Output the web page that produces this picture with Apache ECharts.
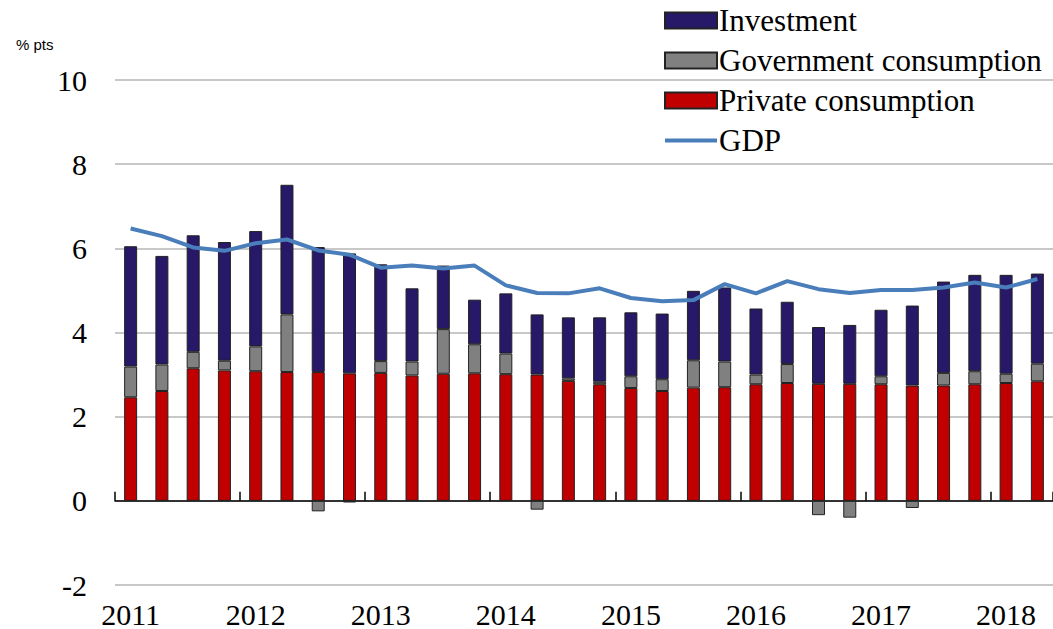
<!DOCTYPE html>
<html>
<head>
<meta charset="utf-8">
<script src="https://cdn.jsdelivr.net/npm/echarts@6/dist/echarts.min.js"></script>
<style>
html,body{margin:0;padding:0;background:#fff;}
#c{width:1053px;height:629px;}
</style>
</head>
<body>
<div id="c"></div>
<script>
const categories = [
  '2011Q1','2011Q2','2011Q3','2011Q4',
  '2012Q1','2012Q2','2012Q3','2012Q4',
  '2013Q1','2013Q2','2013Q3','2013Q4',
  '2014Q1','2014Q2','2014Q3','2014Q4',
  '2015Q1','2015Q2','2015Q3','2015Q4',
  '2016Q1','2016Q2','2016Q3','2016Q4',
  '2017Q1','2017Q2','2017Q3','2017Q4',
  '2018Q1','2018Q2'
];
const privateConsumption = [
  2.46, 2.61, 3.15, 3.10, 3.08, 3.06, 3.06, 3.03,
  3.04, 2.98, 3.02, 3.03, 3.01, 3.00, 2.85, 2.77,
  2.68, 2.61, 2.69, 2.70, 2.77, 2.80, 2.78, 2.78,
  2.77, 2.74, 2.74, 2.77, 2.80, 2.84
];
const governmentConsumption = [
  0.73, 0.63, 0.39, 0.23, 0.59, 1.37, -0.25, -0.04,
  0.28, 0.33, 1.06, 0.69, 0.49, -0.21, 0.06, 0.06,
  0.28, 0.28, 0.65, 0.61, 0.23, 0.45, -0.34, -0.40,
  0.19, -0.17, 0.30, 0.31, 0.22, 0.42
];
const investment = [
  2.86, 2.58, 2.77, 2.82, 2.74, 3.08, 2.97, 2.85,
  2.30, 1.74, 1.51, 1.06, 1.43, 1.43, 1.45, 1.53,
  1.52, 1.56, 1.65, 1.76, 1.57, 1.48, 1.35, 1.40,
  1.58, 1.90, 2.17, 2.29, 2.35, 2.14
];
const gdp = [
  6.47, 6.29, 6.02, 5.94, 6.12, 6.21, 5.95, 5.85,
  5.54, 5.59, 5.52, 5.59, 5.12, 4.94, 4.93, 5.05,
  4.82, 4.74, 4.77, 5.15, 4.93, 5.22, 5.03, 4.94,
  5.01, 5.01, 5.07, 5.19, 5.07, 5.27
];
const yTicks = { min: -2, max: 10, interval: 2 };

const serif = 'Liberation Serif';
const chart = echarts.init(document.getElementById('c'), null, { renderer: 'svg' });
const barBorder = { borderColor: '#222222', borderWidth: 1 };
chart.setOption({
  animation: false,
  backgroundColor: '#ffffff',
  title: {
    text: '% pts',
    left: 11, top: 32,
    textStyle: { fontFamily: 'Liberation Sans', fontSize: 15, fontWeight: 'normal', color: '#000' }
  },
  legend: {
    orient: 'vertical',
    left: 659, top: 0,
    itemWidth: 52, itemHeight: 16,
    itemGap: 9,
    data: [
      { name: 'Investment', icon: 'rect' },
      { name: 'Government consumption', icon: 'rect' },
      { name: 'Private consumption', icon: 'rect' },
      { name: 'GDP', icon: 'path://M0,0 L52,0 L52,4 L0,4 Z', itemStyle: { color: '#4A7EBB', borderWidth: 0 } }
    ],
    textStyle: { fontFamily: serif, fontSize: 31, color: '#000', lineHeight: 31, padding: [0, 0, 0, -3] }
  },
  grid: { left: 115, top: 80, width: 938, height: 506, containLabel: false },
  xAxis: [
    {
      type: 'category',
      data: categories,
      boundaryGap: true,
      axisLine: { onZero: true, lineStyle: { color: '#000', width: 1.5 } },
      axisTick: { show: true, inside: true, length: 9, interval: 3, lineStyle: { color: '#000', width: 1.5 } },
      axisLabel: { show: false },
      splitLine: { show: false }
    },
    {
      type: 'category',
      data: categories,
      position: 'bottom',
      boundaryGap: true,
      axisLine: { show: false, onZero: false },
      axisTick: { show: false },
      axisLabel: {
        interval: 3, margin: 14,
        fontFamily: serif, fontSize: 30, color: '#000',
        formatter: v => v.slice(0, 4)
      }
    }
  ],
  yAxis: {
    type: 'value',
    min: yTicks.min, max: yTicks.max, interval: yTicks.interval,
    axisLine: { show: false },
    axisTick: { show: false },
    axisLabel: { fontFamily: serif, fontSize: 30, color: '#000', margin: 28 },
    splitLine: { lineStyle: { color: '#c8c8c8', width: 2 } }
  },
  series: [
    {
      name: 'Private consumption', type: 'bar', stack: 'a', barWidth: 13,
      data: privateConsumption,
      itemStyle: Object.assign({ color: '#C00000' }, barBorder)
    },
    {
      name: 'Government consumption', type: 'bar', stack: 'a', barWidth: 13,
      data: governmentConsumption,
      itemStyle: Object.assign({ color: '#808080' }, barBorder)
    },
    {
      name: 'Investment', type: 'bar', stack: 'a', barWidth: 13,
      data: investment,
      itemStyle: Object.assign({ color: '#271868' }, barBorder)
    },
    {
      name: 'GDP', type: 'line', data: gdp,
      symbol: 'none', showSymbol: false,
      lineStyle: { color: '#4A7EBB', width: 4 },
      itemStyle: { color: '#4A7EBB' },
      z: 10
    }
  ]
});
</script>
</body>
</html>
